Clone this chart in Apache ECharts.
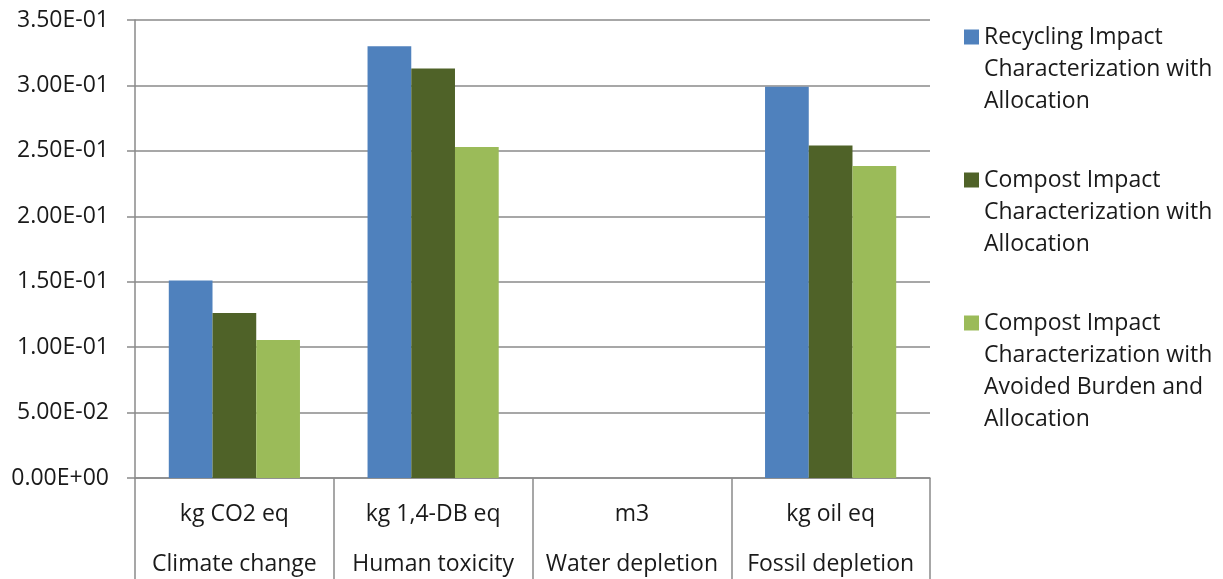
<!DOCTYPE html>
<html>
<head>
<meta charset="utf-8">
<script src="https://cdn.jsdelivr.net/npm/echarts@6/dist/echarts.min.js"></script>
<style>
html,body{margin:0;padding:0;background:#fff;}
#chart{width:1223px;height:579px;}
</style>
</head>
<body>
<div id="chart"></div>
<script>
const categories = ['Climate change', 'Human toxicity', 'Water depletion', 'Fossil depletion'];
const units = ['kg CO2 eq', 'kg 1,4-DB eq', 'm3', 'kg oil eq'];
const seriesNames = [
  'Recycling Impact Characterization with Allocation',
  'Compost Impact Characterization with Allocation',
  'Compost Impact Characterization with Avoided Burden and Allocation'
];
const legendLines = [
  ['Recycling Impact', 'Characterization with', 'Allocation'],
  ['Compost Impact', 'Characterization with', 'Allocation'],
  ['Compost Impact', 'Characterization with', 'Avoided Burden and', 'Allocation']
];
const recycling = [0.151, 0.330, 0, 0.299];
const compost = [0.126, 0.313, 0, 0.254];
const compostAvoided = [0.1055, 0.253, 0, 0.2385];
const yTicks = { min: 0, max: 0.35, interval: 0.05 };

const colors = ['#4F81BD', '#4F6228', '#9BBB59'];
const FONT = 'Open Sans';
const LH = 32;

function sci(v) {
  const parts = v.toExponential(2).split('e');
  const sign = parts[1][0];
  const d = parts[1].slice(1).padStart(2, '0');
  return parts[0] + 'E' + sign + d;
}

const legendTops = [37, 180, 323];
const legends = seriesNames.map((name, i) => {
  const n = legendLines[i].length;
  const total = 2 * n - 1;
  const half = total * LH / 2;
  const blank = new Array(n - 1).fill('');
  return {
    data: [name],
    orient: 'vertical',
    left: 964,
    top: legendTops[i] - half,
    padding: 0,
    itemWidth: 15,
    itemHeight: 15,
    icon: 'rect',
    selectedMode: false,
    formatter: () => blank.concat(legendLines[i]).join('\n'),
    textStyle: {
      fontFamily: FONT,
      fontSize: 23,
      color: '#1a1a1a',
      lineHeight: LH
    }
  };
});

const chart = echarts.init(document.getElementById('chart'));
chart.setOption({
  animation: false,
  backgroundColor: '#ffffff',
  color: colors,
  legend: legends,
  grid: { left: 135, right: 293, top: 20, bottom: 101, containLabel: false, outerBoundsMode: 'none' },
  xAxis: {
    type: 'category',
    data: categories,
    axisLine: { show: true, lineStyle: { color: '#8a8a8a', width: 1.5 } },
    axisTick: { show: true, length: 120, interval: 0, lineStyle: { color: '#8a8a8a', width: 1.5 } },
    axisLabel: {
      interval: 0,
      margin: 11,
      fontFamily: FONT,
      fontSize: 23,
      color: '#1a1a1a',
      lineHeight: 50,
      formatter: (v, idx) => units[idx] + '\n' + v
    }
  },
  yAxis: {
    type: 'value',
    min: yTicks.min,
    max: yTicks.max,
    interval: yTicks.interval,
    axisLine: { show: true, lineStyle: { color: '#8a8a8a', width: 1.5 } },
    axisTick: { show: true, length: 8, lineStyle: { color: '#8a8a8a', width: 1.5 } },
    splitLine: { show: true, lineStyle: { color: '#8a8a8a', width: 1.5 } },
    axisLabel: {
      margin: 26,
      fontFamily: FONT,
      fontSize: 23,
      color: '#1a1a1a',
      formatter: sci
    }
  },
  series: [
    { name: seriesNames[0], type: 'bar', data: recycling, barWidth: '22%', barGap: '0%' },
    { name: seriesNames[1], type: 'bar', data: compost, barWidth: '22%', barGap: '0%' },
    { name: seriesNames[2], type: 'bar', data: compostAvoided, barWidth: '22%', barGap: '0%' }
  ]
});
</script>
</body>
</html>
